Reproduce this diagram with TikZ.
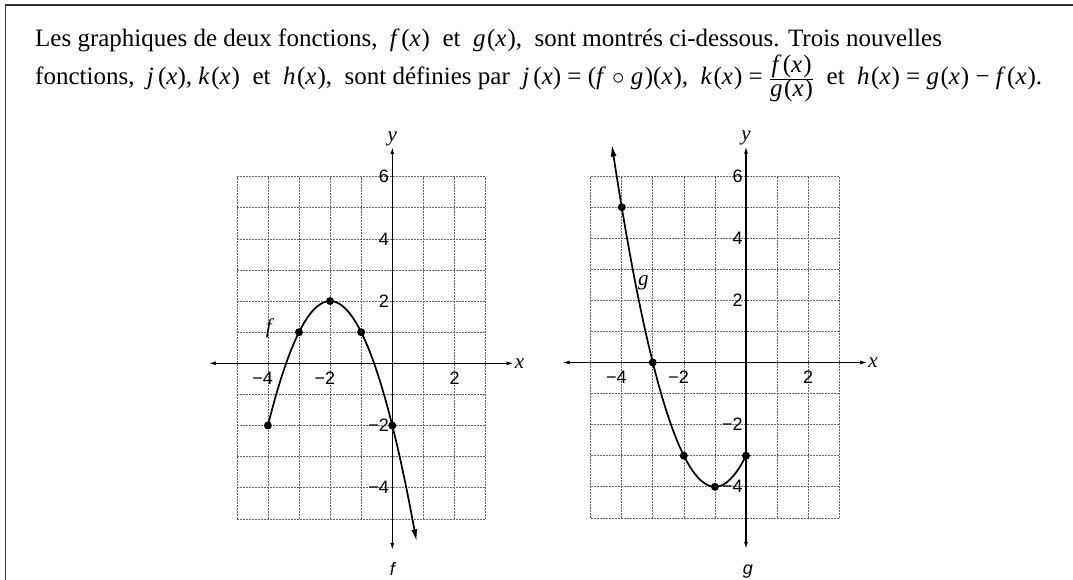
\documentclass[tikz,border=0pt]{standalone}
\usepackage{fontspec}
\setmainfont{Liberation Serif}
\newfontfamily\tickfont{Liberation Sans}
\usetikzlibrary{arrows.meta}
\newcommand\vi[1]{\textit{#1}}
\newcommand\fx[2]{\vi{#1}\hspace{0.06em}(\vi{#2}\hspace{0.04em})}
\newcommand\plotframe[1]{%
  \draw[gridline] (-5,-5) grid[step=1] (3,6);
  \coordinate (#1xl) at (-5.9,0);
  \coordinate (#1xr) at (3.9,0);
  \coordinate (#1yb) at (0,-6);
  \coordinate (#1yt) at (0,6.95);
  \draw[axisline] (#1xl) -- (#1xr);
  \draw[axisline] (#1yb) -- (#1yt);
  \node[axlab, anchor=west] (#1xlab) at (#1xr) {\vi{x}};
  \node[axlab, anchor=south] (#1ylab) at (#1yt) {\vi{y}};
  \foreach \v/\t in {6/6,4/4,2/2,-2/−2,-4/−4}
    \node[ticklab, anchor=east] at (-0.1,\v) {\t};
  \foreach \v/\t in {-4/\makebox[0pt][r]{−}4,-2/\makebox[0pt][r]{−}2,2/2}
    \node[ticklab, anchor=north] at (\v,-0.27) {\t};
}
\begin{document}
\begin{tikzpicture}[x=1pt,y=-1pt,
  gridline/.style={draw=black!60, line width=0.6pt, dash pattern=on 2pt off 1pt},
  axisline/.style={line width=1.2pt, {Latex[length=7pt,width=4pt]}-{Latex[length=7pt,width=4pt]}},
  curveline/.style={line width=1.7pt},
  curvetip/.style={-{Latex[length=12pt,width=6pt]}},
  axlab/.style={inner sep=1pt, font=\fontsize{21}{23}\selectfont},
  ticklab/.style={inner sep=0pt, font=\tickfont\fontsize{18}{20}\selectfont},
  curvelab/.style={inner sep=0pt, font=\fontsize{21}{23}\selectfont},
  namelab/.style={inner sep=0pt, font=\tickfont\itshape\fontsize{18}{20}\selectfont},
  textline/.style={anchor=base west, inner sep=0pt, font=\fontsize{25}{28}\selectfont},
  frameline/.style={draw=black!80, line width=1.6pt},
  dot/.style={fill=black}]
\useasboundingbox (0,0) rectangle (1073,580);
\draw[frameline] (5.5,580) -- (5.5,5) -- (1073,5);
\node[textline] (line1) at (35,47) {Les graphiques de deux fonctions,\ \ \fx{f}{x}\ \ et\ \ \fx{g}{x},\ \ sont montrés ci-dessous. Trois nouvelles};
\node[textline] (line2) at (35,85) {fonctions,\ \ \vi{j}\,(\vi{x}), \fx{k}{x}\ \ et\ \ \fx{h}{x},\ \ sont définies par\ \ \vi{j}\,(\vi{x}) = (\vi{f} $\circ$ \vi{g}\hspace{0.06em})(\vi{x}\hspace{0.04em}),\ \ \fx{k}{x} = $\textstyle\frac{\mbox{\fx{f}{x}}}{\mbox{\fx{g}{x}}}$\ \ et\ \ \fx{h}{x} = \fx{g}{x} − \fx{f}{x}.};
% graph of f
\begin{scope}[shift={(392.3pt,-363.3pt)}, x=31.1pt, y=31.1pt]
  \plotframe{F}
  \draw[curveline, curvetip] plot[domain=-4:0.78, samples=80, smooth] (\x, {2-(\x+2)*(\x+2)});
  \foreach \p in {(-4,-2),(-3,1),(-2,2),(-1,1),(0,-2)} \fill[dot] \p circle (4pt);
  \node[curvelab] (flab) at (-3.93,1.13) {\vi{f}};
  \node[namelab] (fname) at (0,-6.6) {f};
\end{scope}
% graph of g
\begin{scope}[shift={(746pt,-362.5pt)}, x=31.07pt, y=31.07pt]
  \plotframe{G}
  \draw[curveline, curvetip] plot[domain=0:-4.32, samples=80, smooth] (\x, {(\x+1)*(\x+1)-4});
  \foreach \p in {(-4,5),(-3,0),(-2,-3),(-1,-4),(0,-3)} \fill[dot] \p circle (4pt);
  \node[curvelab] (glab) at (-3.3,2.55) {\vi{g}};
  \node[namelab] (gname) at (0.06,-6.73) {g};
\end{scope}
\end{tikzpicture}
\end{document}
